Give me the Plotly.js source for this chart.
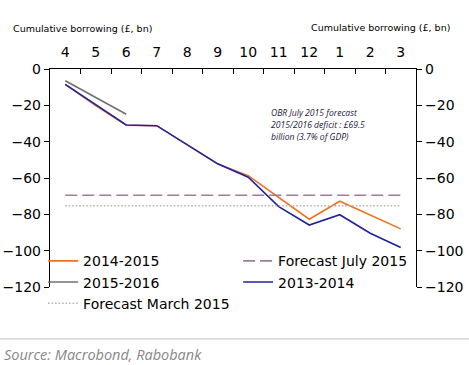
<!DOCTYPE html>
<html>
<head>
<meta charset="utf-8">
<script src="https://cdn.plot.ly/plotly-3.0.1.min.js"></script>
<style>
html,body{margin:0;padding:0;background:#fff;}
#chart{width:469px;height:365px;}
</style>
</head>
<body>
<div id="chart"></div>
<script>
var months = ['4','5','6','7','8','9','10','11','12','1','2','3'];
var fy1415 = [-8.5, -20.2, -31, -31.2, -41.8, -52.3, -58.7, -70.5, -82.7, -72.8, -80.5, -88];
var fy1516 = [-6.5, -15.7, -24.9];
var fy1314 = [-8.5, -19.8, -30.8, -31.2, -41.7, -52.2, -59.6, -75.8, -85.9, -80.2, -90.4, -98.3];
var forecastJuly = [-69.5, -69.5, -69.5, -69.5, -69.5, -69.5, -69.5, -69.5, -69.5, -69.5, -69.5, -69.5];
var forecastMarch = [-75.3, -75.3, -75.3, -75.3, -75.3, -75.3, -75.3, -75.3, -75.3, -75.3, -75.3, -75.3];
var yTicks = [0, -20, -40, -60, -80, -100, -120];
var noteLines = ['OBR July 2015 forecast', '2015/2016 deficit : £69.5', 'billion (3.7% of GDP)'];

var FONT = 'DejaVu Sans, Verdana, sans-serif';

var traces = [
  {x: months, y: fy1415, name: '2014-2015', type: 'scatter', mode: 'lines',
   line: {color: '#f07020', width: 1.6}},
  {x: months, y: forecastJuly, name: 'Forecast July 2015', type: 'scatter', mode: 'lines',
   line: {color: '#a37b9c', width: 1.6, dash: '12px,5px'}},
  {x: months.slice(0, fy1516.length), y: fy1516, name: '2015-2016', type: 'scatter', mode: 'lines',
   line: {color: '#707070', width: 1.6}},
  {x: months, y: fy1314, name: '2013-2014', type: 'scatter', mode: 'lines',
   line: {color: '#2222a0', width: 1.6}},
  {x: months, y: forecastMarch, name: 'Forecast March 2015', type: 'scatter', mode: 'lines',
   line: {color: '#b0b0b0', width: 1.6, dash: '1.5px,2px'}, yaxis: 'y2'}
];

var noteY = [0.7995, 0.7445, 0.6867];
var annotations = [
  {text: 'Cumulative borrowing (£, bn)', xref: 'paper', yref: 'paper', x: -0.106, y: 1.185,
   xanchor: 'left', yanchor: 'middle', showarrow: false,
   font: {family: FONT, size: 9.5, color: '#000000'}},
  {text: 'Cumulative borrowing (£, bn)', xref: 'paper', yref: 'paper', x: 1.097, y: 1.19,
   xanchor: 'right', yanchor: 'middle', showarrow: false,
   font: {family: FONT, size: 9.5, color: '#000000'}},
  {text: '<i>Source: Macrobond, Rabobank</i>', xref: 'paper', yref: 'paper', x: -0.13, y: -0.31,
   xanchor: 'left', yanchor: 'middle', showarrow: false,
   font: {family: 'Open Sans, sans-serif', size: 14.5, color: '#888888'}}
];
noteLines.forEach(function (t, i) {
  annotations.push({text: '<i>' + t + '</i>', xref: 'paper', yref: 'paper', x: 0.597, y: noteY[i],
    xanchor: 'left', yanchor: 'middle', showarrow: false,
    font: {family: 'Open Sans, sans-serif', size: 8.6, color: '#1a1a40'}});
});

var layout = {
  width: 469, height: 365,
  margin: {l: 50, r: 53, t: 69, b: 78, autoexpand: false},
  paper_bgcolor: '#ffffff', plot_bgcolor: '#ffffff',
  font: {family: FONT, size: 14, color: '#000000'},
  showlegend: true,
  xaxis: {
    type: 'category', categoryorder: 'array', categoryarray: months,
    side: 'top', anchor: 'y',
    range: [-0.5, 11.5],
    showline: true, linecolor: '#000000', linewidth: 1.2,
    ticks: 'inside', ticklen: 5, tickcolor: '#000000', tickwidth: 1,
    tickson: 'boundaries',
    showgrid: false, zeroline: false,
    tickfont: {family: FONT, size: 14, color: '#000000'},
    ticklabelstandoff: 5
  },
  yaxis: {
    range: [-120, 0], tickvals: yTicks,
    showline: true, linecolor: '#000000', linewidth: 1.2,
    ticks: 'outside', ticklen: 5, tickcolor: '#000000',
    showgrid: false, zeroline: false,
    tickfont: {family: FONT, size: 14, color: '#000000'}
  },
  yaxis2: {
    range: [-120, 0], tickvals: yTicks, overlaying: 'y', side: 'right',
    showline: true, linecolor: '#000000', linewidth: 1.2,
    ticks: 'outside', ticklen: 5, tickcolor: '#000000',
    showgrid: false, zeroline: false,
    tickfont: {family: FONT, size: 14, color: '#000000'}
  },
  legend: {
    orientation: 'h', x: -0.0188, xanchor: 'left', y: -0.148, yanchor: 'bottom',
    bgcolor: 'rgba(0,0,0,0)',
    entrywidth: 150, entrywidthmode: 'pixels',
    font: {family: FONT, size: 14, color: '#000000'},
    traceorder: 'normal', itemwidth: 30
  },
  annotations: annotations,
  shapes: [
    {type: 'line', xref: 'paper', yref: 'paper', x0: -0.2, x1: 1.2, y0: -0.238, y1: -0.238,
     line: {color: '#c0c0c0', width: 1}}
  ]
};

Plotly.newPlot('chart', traces, layout, {staticPlot: true, displayModeBar: false});
</script>
</body>
</html>
